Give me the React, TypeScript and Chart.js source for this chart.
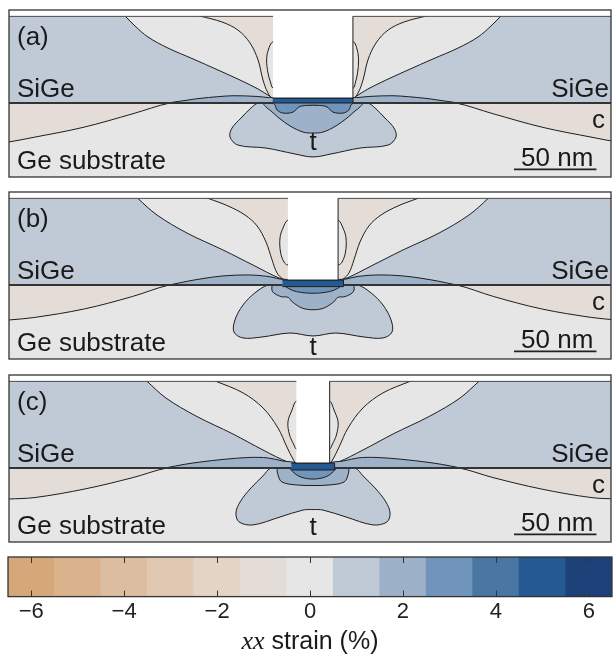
import React, { useEffect, useRef } from 'react';
import { Chart, registerables } from 'chart.js';

Chart.register(...registerables);

type P = [number, number];

// ---------- colour scale (xx strain, %) ----------
const LEVELS = [-6, -5, -4, -3, -2, -1, 0, 1, 2, 3, 4, 5, 6];
const LEVEL_COLORS = ['#d5a779', '#dab28c', '#ddbda0', '#e0c8b2', '#e3d4c6', '#e4ddd7', '#e6e6e6', '#c0cad6', '#9db2c9', '#7195ba', '#4a76a3', '#245a91', '#1c4279'];
const BAR_SPAN = [1, 1, 1, 1, 1, 1, 1, 1, 1, 1, 1, 1, 1];
const TICK_LEVELS = [-6, -4, -2, 0, 2, 4, 6];

// ---------- common geometry (nm) ----------
const SUBSTRATE: P[] = [[-200, -60], [200, -60], [200, 1], [-200, 1]];
const LAYER: P[] = [[-200, 0], [200, 0], [200, 52.5], [-200, 52.5]];
const TOP_STRIP: P[] = [[-200, 52.5], [200, 52.5], [200, 70], [-200, 70]];
const SCALE_BAR: P[] = [[121.8, -40.2], [171.8, -40.2]];

// ---------- panel (a) ----------
const A_C_LEFT: P[] = [[-70, 1.5], [-86.7, 0], [-109.1, -6.5], [-139.4, -14.8], [-169.7, -20.9], [-184.2, -23.6], [-200, -25.8], [-210, 5]];
const A_C_RIGHT: P[] = [[70, 1.5], [86.7, 0], [109.1, -6.5], [139.4, -14.8], [169.7, -20.9], [184.2, -23.6], [200, -25.8], [210, 5]];
const A_T1: P[] = [[-20, 3], [-33.3, 0], [-37.6, -3.0], [-43.6, -9.1], [-49.1, -15.2], [-50.3, -20.6], [-45.5, -25.5], [-28.5, -27.3], [-10.9, -30.9], [0, -32.7], [10.9, -30.9], [28.5, -27.3], [45.5, -25.5], [50.3, -20.6], [49.1, -15.2], [43.6, -9.1], [37.6, -3.0], [33.3, 0], [20, 3]];
const A_T2: P[] = [[-20, 3], [-30.3, 0.6], [-28.5, -2.4], [-25.5, -4.8], [-20.6, -9.1], [-13.9, -13.9], [-6.1, -17.6], [0, -18.2], [6.1, -17.6], [13.9, -13.9], [20.6, -9.1], [25.5, -4.8], [28.5, -2.4], [30.3, 0.6], [20, 3]];
const A_T3: P[] = [[-15, 3], [-24.2, 0], [-23, -1.2], [-21.8, -4.2], [-18.2, -6.1], [-12.1, -5.5], [-8.5, -2.4], [-4, -1.5], [4, -1.5], [8.5, -2.4], [12.1, -5.5], [18.2, -6.1], [21.8, -4.2], [23, -1.2], [24.2, 0], [15, 3]];
const A_GRAY_L: P[] = [[-118.5, 57], [-113.9, 52.7], [-107.9, 46.7], [-100, 40], [-87.9, 33.3], [-72.7, 26.7], [-57.6, 20], [-44.2, 13.9], [-33.3, 8.5], [-27.3, 4.8], [-24.2, 3.0], [-8, 4], [-8, 60]];
const A_GRAY_R: P[] = [[118.5, 57], [113.9, 52.7], [107.9, 46.7], [100, 40], [87.9, 33.3], [72.7, 26.7], [57.6, 20], [44.2, 13.9], [33.3, 8.5], [27.3, 4.8], [24.2, 3.0], [8, 4], [8, 60]];
const A_TAN_L: P[] = [[-75, 54.5], [-68.5, 52.7], [-55.2, 49.1], [-45.5, 44.2], [-38.2, 36.4], [-33.3, 26.1], [-30.3, 13.9], [-27.3, 6.1], [-24.2, 3.0], [-8, 4], [-8, 60]];
const A_TAN_R: P[] = [[75, 54.5], [68.5, 52.7], [55.2, 49.1], [45.5, 44.2], [38.2, 36.4], [33.3, 26.1], [30.3, 13.9], [27.3, 6.1], [24.2, 3.0], [8, 4], [8, 60]];
const A_BULGE_L: P[] = [[-15, 38], [-24.2, 37.2], [-27.1, 32.1], [-28.1, 26.1], [-27.3, 18.2], [-25.6, 12.1], [-24.2, 9.1], [-15, 8.5]];
const A_BULGE_R: P[] = [[15, 38], [24.4, 37.2], [26.8, 32.1], [27.6, 26.1], [27, 18.2], [25.6, 12.1], [24.4, 9.1], [15, 8.5]];
const A_LENS_L: P[] = [[-86.7, 0.2], [-75, 1.9], [-68.5, 2.8], [-58, 3.8], [-48.5, 4.4], [-34.5, 4.0], [-27.3, 3.3], [-24.2, 3.0], [-24.2, 0.2]];
const A_LENS_R: P[] = [[86.7, 0.2], [75, 1.9], [68.5, 2.8], [58, 3.8], [48.5, 4.4], [34.5, 4.0], [27.3, 3.3], [24.2, 3.0], [24.2, 0.2]];
const A_BAR: P[] = [[-24.2, 0], [24.2, 0], [24.2, 3], [-24.2, 3]];
const A_TRENCH: P[] = [[-24.2, 3], [24.2, 3], [24.2, 60], [-24.2, 60]];
const A_TOP_L: P[] = [[-200, 52.5], [-24.2, 52.5]];
const A_TOP_R: P[] = [[24.2, 52.5], [200, 52.5]];
const A_IF_L: P[] = [[-200, 0], [-24.2, 0]];
const A_IF_R: P[] = [[24.2, 0], [200, 0]];

// ---------- panel (b) ----------
const B_C_LEFT: P[] = [[-70, 1.5], [-87, 0], [-109.5, -7], [-138.5, -14.5], [-169, -19.7], [-184.2, -21.2], [-200, -22.5], [-210, 5]];
const B_C_RIGHT: P[] = [[70, 1.5], [87, 0], [109.5, -7], [138.5, -14.5], [169, -19.7], [184.2, -21.2], [200, -22.5], [210, 5]];
const B_T1: P[] = [[-12, 3], [-27.3, 0], [-35.2, -4.8], [-42.4, -12.1], [-47.3, -21.2], [-47.9, -28.5], [-42.4, -32.1], [-30.9, -31.5], [-13.9, -29.1], [0, -30.9], [13.9, -29.1], [30.9, -31.5], [42.4, -32.1], [47.9, -28.5], [47.3, -21.2], [42.4, -12.1], [35.2, -4.8], [27.3, 0], [12, 3]];
const B_T2: P[] = [[-12, 3], [-24.2, 0], [-24.5, -4], [-19.5, -7], [-15, -7.5], [-12.5, -10.3], [-6.5, -14], [0, -15], [6.5, -14], [12.5, -10.3], [15, -7.5], [19.5, -7], [24.5, -4], [24.2, 0], [12, 3]];
const B_T3: P[] = [[-10, 3], [-17, 0], [-15, -2], [-10, -4], [0, -5], [10, -4], [15, -2], [17, 0], [10, 3]];
const B_GRAY_L: P[] = [[-109.5, 56.5], [-106.1, 52.5], [-94.5, 42.4], [-76.4, 31.5], [-54.5, 21.2], [-35.2, 11.5], [-21.2, 4.5], [-15.2, 3.0], [-5, 4], [-5, 60]];
const B_GRAY_R: P[] = [[109.5, 56.5], [106.1, 52.5], [94.5, 42.4], [76.4, 31.5], [54.5, 21.2], [35.2, 11.5], [21.2, 4.5], [15.2, 3.0], [5, 4], [5, 60]];
const B_TAN_L: P[] = [[-71.5, 55.2], [-63.6, 52.5], [-51.5, 47.9], [-41.2, 42.4], [-33.9, 35.8], [-28.5, 26.1], [-24.8, 15.2], [-21.8, 7.3], [-18.2, 3.6], [-15.2, 3.0], [-5, 4], [-5, 60]];
const B_TAN_R: P[] = [[71.5, 55.2], [63.6, 52.5], [51.5, 47.9], [41.2, 42.4], [33.9, 35.8], [28.5, 26.1], [24.8, 15.2], [21.8, 7.3], [18.2, 3.6], [15.2, 3.0], [5, 4], [5, 60]];
const B_BULGE_L: P[] = [[-8, 40], [-15.2, 39.4], [-18.2, 34.5], [-20.0, 28.5], [-19.7, 20.0], [-17.6, 13.9], [-15.2, 12.1], [-8, 11.5]];
const B_BULGE_R: P[] = [[8, 40], [15.2, 39.4], [18.2, 34.5], [20.0, 28.5], [19.7, 20.0], [17.6, 13.9], [15.2, 12.1], [8, 11.5]];
const B_LENS_L: P[] = [[-86.1, 0.2], [-76, 2.3], [-66.7, 3.9], [-54.5, 5.5], [-39.4, 6.1], [-27.3, 5.2], [-20, 3.6], [-15.2, 3.0], [-15.2, 0.2]];
const B_LENS_R: P[] = [[86.1, 0.2], [76, 2.3], [66.7, 3.9], [54.5, 5.5], [39.4, 6.1], [27.3, 5.2], [20, 3.6], [15.2, 3.0], [15.2, 0.2]];
const B_BAR: P[] = [[-18.5, -1], [18.5, -1], [18.5, 3], [-18.5, 3]];
const B_TRENCH: P[] = [[-15.2, 3], [15.2, 3], [15.2, 60], [-15.2, 60]];
const B_TOP_L: P[] = [[-200, 52.5], [-15.2, 52.5]];
const B_TOP_R: P[] = [[15.2, 52.5], [200, 52.5]];
const B_IF_L: P[] = [[-200, 0], [-18.5, 0]];
const B_IF_R: P[] = [[18.5, 0], [200, 0]];

// ---------- panel (c) ----------
const C_C_LEFT: P[] = [[-70, 1.5], [-88.5, 0], [-109.1, -5.8], [-138.2, -12.7], [-168.5, -17.9], [-184.2, -18.8], [-200, -19.8], [-210, 5]];
const C_C_RIGHT: P[] = [[70, 1.5], [88.5, 0], [109.1, -5.8], [138.2, -12.7], [168.5, -17.9], [184.2, -18.8], [200, -19.8], [210, 5]];
const C_T1: P[] = [[-10, 3], [-25.5, 0], [-30.3, -4.8], [-37.6, -12.1], [-44.2, -20.6], [-46.7, -27.3], [-44.8, -32.7], [-36.4, -34.5], [-20, -29.7], [-6.1, -25.5], [0, -25.2], [6.1, -25.5], [20, -29.7], [36.4, -34.5], [44.8, -32.7], [46.7, -27.3], [44.2, -20.6], [37.6, -12.1], [30.3, -4.8], [25.5, 0], [10, 3]];
const C_T2: P[] = [[-10, 3], [-21.2, 0], [-21.2, -4.2], [-18.8, -8.5], [-9.7, -10.3], [0, -10.6], [9.7, -10.3], [18.8, -8.5], [21.2, -4.2], [21.2, 0], [10, 3]];
const C_T3: P[] = [[-8, 3], [-14.5, 1.2], [-12.1, -2.4], [-7.3, -5.5], [0, -6.7], [7.3, -5.5], [12.1, -2.4], [14.5, 1.2], [8, 3]];
const C_GRAY_L: P[] = [[-104.5, 55.5], [-100.6, 52.5], [-89.1, 42.4], [-70.9, 31.5], [-48.5, 20.6], [-30.3, 10.9], [-15.2, 3.6], [-10.1, 3.0], [-3, 4], [-3, 60]];
const C_GRAY_R: P[] = [[104.5, 55.5], [100.6, 52.5], [89.1, 42.4], [70.9, 31.5], [48.5, 20.6], [30.3, 10.9], [15.2, 3.6], [10.1, 3.0], [3, 4], [3, 60]];
const C_TAN_L: P[] = [[-66.7, 55.2], [-58.8, 52.5], [-42.4, 45.5], [-30.3, 36.4], [-21.2, 24.2], [-15.8, 12.7], [-11.8, 4.8], [-10.1, 3.0], [-3, 4], [-3, 60]];
const C_TAN_R: P[] = [[66.7, 55.2], [58.8, 52.5], [42.4, 45.5], [30.3, 36.4], [21.2, 24.2], [15.8, 12.7], [11.8, 4.8], [10.1, 3.0], [3, 4], [3, 60]];
const C_BULGE_L: P[] = [[-4, 41], [-10.1, 40.6], [-12.7, 35.2], [-15.2, 27.9], [-14.2, 20.0], [-11.5, 13.9], [-10.1, 11.5], [-4, 11]];
const C_BULGE_R: P[] = [[4, 41], [10.1, 40.6], [12.7, 35.2], [15.2, 27.9], [14.2, 20.0], [11.5, 13.9], [10.1, 11.5], [4, 11]];
const C_LENS_L: P[] = [[-88.5, 0.2], [-78, 2.2], [-68.5, 3.6], [-54.5, 5.2], [-38.2, 6.4], [-27.3, 6.1], [-18.2, 4.2], [-10.1, 3.0], [-10.1, 0.2]];
const C_LENS_R: P[] = [[88.5, 0.2], [78, 2.2], [68.5, 3.6], [54.5, 5.2], [38.2, 6.4], [27.3, 6.1], [18.2, 4.2], [10.1, 3.0], [10.1, 0.2]];
const C_BAR: P[] = [[-13.1, -1.2], [13.1, -1.2], [13.1, 3], [-13.1, 3]];
const C_TRENCH: P[] = [[-10.1, 3], [10.1, 3], [10.1, 60], [-10.1, 60]];
const C_TOP_L: P[] = [[-200, 52.5], [-10.1, 52.5]];
const C_TOP_R: P[] = [[10.1, 52.5], [200, 52.5]];
const C_IF_L: P[] = [[-200, 0], [-13.1, 0]];
const C_IF_R: P[] = [[13.1, 0], [200, 0]];

// ---------- layout (axis limits in nm, label anchors) ----------
const X_MIN = -184.24;
const X_MAX = 180.6;
const Y_MIN = -44.85;
const Y_MAX = 56.36;
const FONT = '"Liberation Sans", Arial, sans-serif';
const LINE = '#1e1e1e';

interface PanelSpec {
  tag: string; tY: number;
  cLeft: P[]; cRight: P[]; t1: P[]; t2: P[]; t3: P[];
  grayL: P[]; grayR: P[]; tanL: P[]; tanR: P[]; bulgeL: P[]; bulgeR: P[]; lensL: P[]; lensR: P[];
  bar: P[]; trench: P[]; topL: P[]; topR: P[]; ifL: P[]; ifR: P[];
}

const PANEL_A: PanelSpec = { tag: '(a)', tY: -28.5, cLeft: A_C_LEFT, cRight: A_C_RIGHT, t1: A_T1, t2: A_T2, t3: A_T3, grayL: A_GRAY_L, grayR: A_GRAY_R, tanL: A_TAN_L, tanR: A_TAN_R, bulgeL: A_BULGE_L, bulgeR: A_BULGE_R, lensL: A_LENS_L, lensR: A_LENS_R, bar: A_BAR, trench: A_TRENCH, topL: A_TOP_L, topR: A_TOP_R, ifL: A_IF_L, ifR: A_IF_R };
const PANEL_B: PanelSpec = { tag: '(b)', tY: -42.4, cLeft: B_C_LEFT, cRight: B_C_RIGHT, t1: B_T1, t2: B_T2, t3: B_T3, grayL: B_GRAY_L, grayR: B_GRAY_R, tanL: B_TAN_L, tanR: B_TAN_R, bulgeL: B_BULGE_L, bulgeR: B_BULGE_R, lensL: B_LENS_L, lensR: B_LENS_R, bar: B_BAR, trench: B_TRENCH, topL: B_TOP_L, topR: B_TOP_R, ifL: B_IF_L, ifR: B_IF_R };
const PANEL_C: PanelSpec = { tag: '(c)', tY: -40.6, cLeft: C_C_LEFT, cRight: C_C_RIGHT, t1: C_T1, t2: C_T2, t3: C_T3, grayL: C_GRAY_L, grayR: C_GRAY_R, tanL: C_TAN_L, tanR: C_TAN_R, bulgeL: C_BULGE_L, bulgeR: C_BULGE_R, lensL: C_LENS_L, lensR: C_LENS_R, bar: C_BAR, trench: C_TRENCH, topL: C_TOP_L, topR: C_TOP_R, ifL: C_IF_L, ifR: C_IF_R };

const col = (lv: number) => LEVEL_COLORS[LEVELS.indexOf(lv)];
const pts = (a: P[]) => a.map(([x, y]) => ({ x, y }));
const fmt = (v: number) => (v < 0 ? '\u2212' + Math.abs(v) : String(v));

function region(points: P[], color: string, border = true, tension = 0.35): any {
  return {
    data: pts(points), showLine: true, fill: 'shape', backgroundColor: color,
    borderColor: border ? LINE : 'rgba(0,0,0,0)', borderWidth: border ? 1 : 0,
    tension, pointRadius: 0, pointHoverRadius: 0,
  };
}

function stroke(points: P[], color: string, width: number): any {
  return { data: pts(points), showLine: true, fill: false, borderColor: color, borderWidth: width, tension: 0, pointRadius: 0, pointHoverRadius: 0 };
}

function panelConfig(s: PanelSpec): any {
  const layers = [
    region(SUBSTRATE, col(0), false, 0),
    region(s.cLeft, col(-1)), region(s.cRight, col(-1)),
    region(s.t1, col(1)), region(s.t2, col(2)), region(s.t3, col(3)),
    region(LAYER, col(1), false, 0),
    region(s.grayL, col(0)), region(s.grayR, col(0)),
    region(s.tanL, col(-1)), region(s.tanR, col(-1)),
    region(s.bulgeL, col(0)), region(s.bulgeR, col(0)),
    region(s.lensL, col(2)), region(s.lensR, col(2)),
    region(s.bar, col(5), true, 0),
    region(s.trench, '#ffffff', true, 0),
    region(TOP_STRIP, '#ffffff', false, 0),
    stroke(s.topL, '#4a4a4a', 1), stroke(s.topR, '#4a4a4a', 1),
    stroke(s.ifL, '#333333', 1.8), stroke(s.ifR, '#333333', 1.8),
    stroke(SCALE_BAR, '#222', 1.6),
  ];
  const n = layers.length;
  layers.forEach((d, i) => { d.order = n - i; });

  const labels = [
    { text: s.tag, x: -179.4, y: 35, align: 'left' },
    { text: 'SiGe', x: -179.4, y: 3.9, align: 'left' },
    { text: 'SiGe', x: 179.4, y: 3.9, align: 'right' },
    { text: 'c', x: 177, y: -15, align: 'right' },
    { text: 'Ge substrate', x: -179.4, y: -40.3, align: 'left' },
    { text: 't', x: 0, y: s.tY, align: 'center' },
    { text: '50 nm', x: 148, y: -38.2, align: 'center' },
  ];

  const decor = {
    id: 'panelDecor',
    afterDatasetsDraw(chart: any) {
      const { ctx, chartArea: a, scales } = chart;
      ctx.save();
      ctx.fillStyle = '#1a1a1a';
      ctx.textBaseline = 'alphabetic';
      ctx.font = `26px ${FONT}`;
      for (const l of labels) {
        ctx.textAlign = l.align;
        ctx.fillText(l.text, scales.x.getPixelForValue(l.x), scales.y.getPixelForValue(l.y));
      }
      ctx.strokeStyle = '#333';
      ctx.lineWidth = 1.3;
      ctx.strokeRect(a.left, a.top, a.right - a.left, a.bottom - a.top);
      ctx.restore();
    },
  };

  return {
    type: 'scatter',
    data: { datasets: layers },
    options: {
      animation: false,
      responsive: false,
      maintainAspectRatio: false,
      events: [],
      layout: { padding: { left: 9, right: 3, top: 10, bottom: 8 } },
      scales: {
        x: { type: 'linear', min: X_MIN, max: X_MAX, display: false },
        y: { type: 'linear', min: Y_MIN, max: Y_MAX, display: false },
      },
      elements: { point: { radius: 0 }, line: { capBezierPoints: false } },
      plugins: { legend: { display: false }, tooltip: { enabled: false } },
    },
    plugins: [decor],
  };
}

function colorbarConfig(): any {
  const cbDecor = {
    id: 'cbDecor',
    afterDraw(chart: any) {
      const { ctx, chartArea: a, scales } = chart;
      ctx.save();
      ctx.strokeStyle = '#333';
      ctx.lineWidth = 1;
      for (let i = 0; i < LEVELS.length; i++) {
        if (!TICK_LEVELS.includes(LEVELS[i])) continue;
        const x = Math.round(scales.x.getPixelForValue(i)) + 0.5;
        ctx.beginPath();
        ctx.moveTo(x, a.top); ctx.lineTo(x, a.top + 6);
        ctx.moveTo(x, a.bottom); ctx.lineTo(x, a.bottom - 6);
        ctx.stroke();
      }
      ctx.lineWidth = 1.3;
      ctx.strokeRect(a.left, a.top, a.right - a.left, a.bottom - a.top);
      // axis title: italic "xx" + " strain (%)"
      const t1 = 'xx';
      const t2 = ' strain (%)';
      ctx.fillStyle = '#1a1a1a';
      ctx.textBaseline = 'alphabetic';
      ctx.textAlign = 'left';
      ctx.font = 'italic 26px "Liberation Serif", serif';
      const w1 = ctx.measureText(t1).width;
      ctx.font = `25px ${FONT}`;
      const w2 = ctx.measureText(t2).width;
      const cx = (a.left + a.right) / 2;
      const x0 = cx - (w1 + w2) / 2;
      const yb = 101;
      ctx.font = 'italic 26px "Liberation Serif", serif';
      ctx.fillText(t1, x0, yb);
      ctx.font = `25px ${FONT}`;
      ctx.fillText(t2, x0 + w1, yb);
      ctx.restore();
    },
  };
  return {
    type: 'bar',
    data: {
      labels: LEVELS.map(String),
      datasets: [{ data: BAR_SPAN, backgroundColor: LEVEL_COLORS, borderWidth: 0, barPercentage: 1, categoryPercentage: 1 }],
    },
    options: {
      animation: false,
      responsive: false,
      maintainAspectRatio: false,
      events: [],
      layout: { padding: { left: 8, right: 2, top: 9, bottom: 35 } },
      scales: {
        x: {
          grid: { display: false, drawTicks: false },
          border: { display: false },
          ticks: {
            autoSkip: false, maxRotation: 0, minRotation: 0, padding: 2, color: '#222',
            font: { family: FONT, size: 22 },
            callback: (_v: any, i: number) => (TICK_LEVELS.includes(LEVELS[i]) ? fmt(LEVELS[i]) : ''),
          },
        },
        y: { display: false, min: 0, max: 1 },
      },
      plugins: { legend: { display: false }, tooltip: { enabled: false } },
    },
    plugins: [cbDecor],
  };
}

export default function App() {
  const aRef = useRef<HTMLCanvasElement>(null);
  const bRef = useRef<HTMLCanvasElement>(null);
  const cRef = useRef<HTMLCanvasElement>(null);
  const cbRef = useRef<HTMLCanvasElement>(null);

  useEffect(() => {
    const charts = [
      new Chart(aRef.current as HTMLCanvasElement, panelConfig(PANEL_A)),
      new Chart(bRef.current as HTMLCanvasElement, panelConfig(PANEL_B)),
      new Chart(cRef.current as HTMLCanvasElement, panelConfig(PANEL_C)),
      new Chart(cbRef.current as HTMLCanvasElement, colorbarConfig()),
    ];
    return () => charts.forEach((c) => c.destroy());
  }, []);

  const cs = (top: number, h: number): React.CSSProperties => ({ position: 'absolute', left: 0, top, width: 614, height: h });

  return (
    <div style={{ position: 'absolute', left: 0, top: 0, width: 614, height: 662, background: '#ffffff', overflow: 'hidden' }}>
      <canvas ref={aRef} width={614} height={185} style={cs(0, 185)} />
      <canvas ref={bRef} width={614} height={185} style={cs(182, 185)} />
      <canvas ref={cRef} width={614} height={185} style={cs(365, 185)} />
      <canvas ref={cbRef} width={614} height={114} style={cs(548, 114)} />
    </div>
  );
}
